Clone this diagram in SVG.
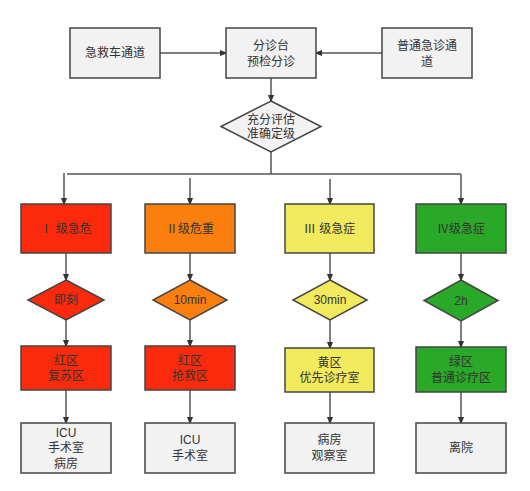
<svg xmlns="http://www.w3.org/2000/svg" width="530" height="491" viewBox="0 0 530 491">
<defs>
<marker id="ah" markerWidth="8" markerHeight="10" refX="8" refY="4" orient="auto" markerUnits="userSpaceOnUse" viewBox="0 0 10 8">
<path d="M0,0 L10,4 L0,8 Z" fill="#333"/>
</marker>
</defs>
<style>
text{font-family:"Liberation Sans","Noto Sans CJK SC",sans-serif;font-size:12px;fill:#333;text-anchor:middle;dominant-baseline:central}
.box{stroke:#444;stroke-width:1.5}
.gray{fill:#f2f2f2}
.red{fill:#fc2a0c}
.orange{fill:#fa7f0e}
.yellow{fill:#f1ea5c}
.green{fill:#2aa828}
.ln{fill:none;stroke:#555;stroke-width:1.5}
.ar{fill:none;stroke:#555;stroke-width:1.5;marker-end:url(#ah)}
</style>
<rect width="530" height="491" fill="#fff"/>
<g id="connectors">
<line class="ar" x1="160" y1="53" x2="226" y2="53"/>
<line class="ar" x1="382" y1="53" x2="316" y2="53"/>
<line class="ar" x1="271" y1="78" x2="271" y2="101"/>
<line class="ln" x1="271" y1="152" x2="271" y2="174"/>
<line class="ln" x1="67" y1="174" x2="461" y2="174"/>
<line class="ar" x1="64" y1="173" x2="64" y2="204"/>
<line class="ar" x1="190" y1="178" x2="190" y2="204"/>
<line class="ar" x1="330" y1="179" x2="330" y2="204"/>
<line class="ar" x1="461" y1="174" x2="461" y2="204"/>
<line class="ar" x1="66" y1="253" x2="66" y2="280"/>
<line class="ar" x1="190" y1="253" x2="190" y2="280"/>
<line class="ar" x1="330" y1="253" x2="330" y2="280"/>
<line class="ar" x1="461" y1="253" x2="461" y2="280"/>
<line class="ar" x1="66" y1="320" x2="66" y2="346"/>
<line class="ar" x1="190" y1="320" x2="190" y2="346"/>
<line class="ar" x1="330" y1="320" x2="330" y2="348"/>
<line class="ar" x1="461" y1="321" x2="461" y2="347"/>
<line class="ar" x1="66" y1="390" x2="66" y2="423"/>
<line class="ar" x1="190" y1="390" x2="190" y2="423"/>
<line class="ar" x1="330" y1="392" x2="330" y2="423"/>
<line class="ar" x1="461" y1="392" x2="461" y2="423"/>
</g>
<g id="n-ambulance"><rect class="box gray" x="70" y="28" width="90" height="50"/><text x="115" y="53">急救车通道</text></g>
<g id="n-triage"><rect class="box gray" x="226" y="28" width="90" height="50"/><text x="271" y="46">分诊台</text><text x="271" y="62">预检分诊</text></g>
<g id="n-normal"><rect class="box gray" x="382" y="28" width="90" height="50"/><text x="427" y="46">普通急诊通</text><text x="427" y="62">道</text></g>
<g id="n-assess"><polygon class="box gray" points="271,101 321,126.5 271,152 221,126.5"/><text x="271" y="119.5">充分评估</text><text x="271" y="134">准确定级</text></g>
<g id="n-l1"><rect class="box red" x="21" y="204" width="90" height="49"/><text x="66" y="229">Ⅰ 级急危</text></g>
<g id="n-l2"><rect class="box orange" x="145" y="204" width="90" height="49"/><text x="190" y="229">Ⅱ级危重</text></g>
<g id="n-l3"><rect class="box yellow" x="285" y="204" width="89" height="49"/><text x="329.5" y="229">Ⅲ 级急症</text></g>
<g id="n-l4"><rect class="box green" x="416" y="204" width="90" height="49"/><text x="461" y="229">Ⅳ级急症</text></g>
<g id="n-d1"><polygon class="box red" points="66,280 104,300 66,320 28,300"/><text x="66" y="300">即刻</text></g>
<g id="n-d2"><polygon class="box orange" points="190,280 227,300 190,320 153,300"/><text x="190" y="300">10min</text></g>
<g id="n-d3"><polygon class="box yellow" points="330,280 367,300 330,320 293,300"/><text x="330" y="300">30min</text></g>
<g id="n-d4"><polygon class="box green" points="461,280 498,300.5 461,321 424,300.5"/><text x="461" y="300.5">2h</text></g>
<g id="n-z1"><rect class="box red" x="21" y="346" width="90" height="44"/><text x="66" y="360.5">红区</text><text x="66" y="376">复苏区</text></g>
<g id="n-z2"><rect class="box red" x="145" y="346" width="90" height="44"/><text x="190" y="360.5">红区</text><text x="190" y="376">抢救区</text></g>
<g id="n-z3"><rect class="box yellow" x="285" y="348" width="89" height="44"/><text x="329.5" y="362.5">黄区</text><text x="329.5" y="378">优先诊疗室</text></g>
<g id="n-z4"><rect class="box green" x="416" y="347" width="90" height="45"/><text x="461" y="362">绿区</text><text x="461" y="377.5">普通诊疗区</text></g>
<g id="n-o1"><rect class="box gray" x="21" y="423" width="90" height="50"/><text x="66" y="432.5">ICU</text><text x="66" y="448">手术室</text><text x="66" y="463.5">病房</text></g>
<g id="n-o2"><rect class="box gray" x="145" y="423" width="90" height="50"/><text x="190" y="440">ICU</text><text x="190" y="456">手术室</text></g>
<g id="n-o3"><rect class="box gray" x="285" y="423" width="89" height="50"/><text x="329.5" y="440">病房</text><text x="329.5" y="456">观察室</text></g>
<g id="n-o4"><rect class="box gray" x="416" y="423" width="90" height="50"/><text x="461" y="448">离院</text></g>
</svg>
